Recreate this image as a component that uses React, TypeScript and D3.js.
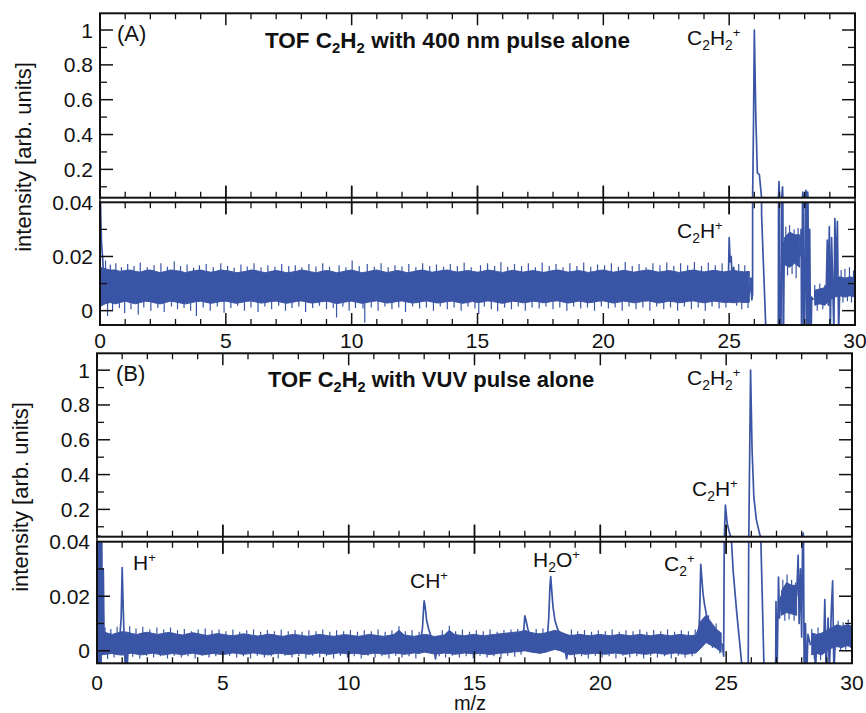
import React from "react";
import * as d3 from "d3";

const BLUE = "#3a55a5";
const FONT = "'Liberation Sans', Arial, Helvetica, sans-serif";

// sampling grid of the noise-band envelopes (m/z 0..30, step 0.2)
const bandGrid: number[] = d3.range(151).map((i) => Math.round(i * 2) / 10);

// ---------- Panel A: 400 nm pulse alone ----------
const aBandHi: (number | null)[] = [
  0.016, 0.0155, 0.015, 0.015, 0.0145, 0.0148, 0.015, 0.0145, 0.0142, 0.0148, 0.015, 0.0145, 0.014, 0.0145, 0.015, 0.0148, 0.0145, 0.014, 0.0145, 0.0148, 0.015, 0.0145, 0.0142, 0.0145, 0.015,
  0.0148, 0.0145, 0.014, 0.0142, 0.0145, 0.015, 0.0148, 0.0143, 0.014, 0.0145, 0.0148, 0.0145, 0.014, 0.0142, 0.0145, 0.015, 0.0147, 0.0143, 0.014, 0.0145, 0.0148, 0.0145, 0.014, 0.0143, 0.0147,
  0.015, 0.0145, 0.014, 0.0143, 0.0147, 0.015, 0.0145, 0.0141, 0.0144, 0.0148, 0.0145, 0.014, 0.0143, 0.0147, 0.015, 0.0146, 0.0142, 0.0145, 0.0148, 0.015, 0.0146, 0.0142, 0.0145, 0.0148, 0.0145,
  0.0142, 0.0145, 0.015, 0.0148, 0.0144, 0.0141, 0.0145, 0.0149, 0.0146, 0.0142, 0.0145, 0.0148, 0.0145, 0.0141, 0.0144, 0.0148, 0.015, 0.0146, 0.0142, 0.0145, 0.0148, 0.0145, 0.0141, 0.0144, 0.0148,
  0.015, 0.0146, 0.0142, 0.0145, 0.0149, 0.0146, 0.0142, 0.0145, 0.0148, 0.015, 0.0146, 0.0142, 0.0145, 0.0148, 0.0145, 0.0141, 0.0144, 0.0148, 0.015, 0.0146, 0.0143, 0.0146, 0.0149, 0.0146, 0.0143,
  0.0146, 0.0148, 0.0145, 0.0143, 0.0145, null, null, null, null, null, null, 0.027, 0.029, 0.028, 0.028, null, null, 0.0075, 0.008, 0.0085, 0.011, 0.012, 0.0125, 0.012, 0.0125, 0.012,
];
const aBandLo: (number | null)[] = [
  0.0015, 0.0025, 0.003, 0.0025, 0.003, 0.0035, 0.003, 0.0025, 0.003, 0.0035, 0.0033, 0.0028, 0.0025, 0.003, 0.0035, 0.0032, 0.0028, 0.0025, 0.0029, 0.0033, 0.0035, 0.0031, 0.0027, 0.003, 0.0034,
  0.0035, 0.0031, 0.0027, 0.003, 0.0034, 0.0036, 0.0032, 0.0028, 0.003, 0.0034, 0.0035, 0.0031, 0.0027, 0.003, 0.0034, 0.0036, 0.0032, 0.0028, 0.003, 0.0033, 0.0035, 0.0031, 0.0026, 0.0029, 0.0033,
  0.0035, 0.0031, 0.0027, 0.003, 0.0034, 0.0036, 0.0032, 0.0028, 0.003, 0.0034, 0.0036, 0.0032, 0.0028, 0.003, 0.0034, 0.0036, 0.0032, 0.0028, 0.003, 0.0034, 0.0035, 0.0031, 0.0027, 0.003, 0.0034,
  0.003, 0.0032, 0.0036, 0.0034, 0.003, 0.0027, 0.0031, 0.0035, 0.0033, 0.0029, 0.0031, 0.0035, 0.0033, 0.0029, 0.0031, 0.0035, 0.0036, 0.0032, 0.0028, 0.0031, 0.0035, 0.0033, 0.0029, 0.0031, 0.0035,
  0.0036, 0.0032, 0.0028, 0.0031, 0.0035, 0.0033, 0.0029, 0.0031, 0.0035, 0.0036, 0.0032, 0.0028, 0.0031, 0.0035, 0.0033, 0.0029, 0.0031, 0.0035, 0.0036, 0.0032, 0.0029, 0.0032, 0.0035, 0.0033, 0.003,
  0.0031, 0.0029, 0.0032, 0.003, 0.0031, null, null, null, null, null, null, 0.017, 0.016, 0.0175, 0.016, null, null, 0.002, 0.0025, 0.002, 0.004, 0.005, 0.0055, 0.005, 0.0055, 0.005,
];
// noise spikes poking out of the band: [m/z, tip intensity]
const aSpikes: [number, number][] = [
  [0.22, 0.0185], [0.3, -0.002], [0.41, 0.017], [0.5, 0.0], [0.63, 0.0175], [0.77, 0.001], [0.85, 0.016], [0.98, -0.001], [1.1, 0.0172], [1.23, 0.0005], [1.35, 0.0165], [1.52, -0.0015], [1.6, 0.0178], [1.74, 0.0012], [1.88, 0.016], [2.02, 0.0], [2.15, 0.0168], [2.3, 0.001], [2.42, 0.0175],
  [2.55, -0.0005], [2.68, 0.0162], [2.84, 0.0015], [2.95, 0.0182], [3.08, 0.0005], [3.2, 0.0165], [3.34, 0.001], [3.46, 0.017], [3.6, 0.0], [3.72, 0.0158], [3.83, -0.002], [3.95, 0.0168], [4.1, 0.0012], [4.22, 0.0172], [4.38, 0.0], [4.5, 0.016], [4.66, 0.0015], [4.8, 0.0175], [4.93, -0.0008],
  [5.07, 0.0165], [5.2, 0.001], [5.33, 0.0158], [5.47, 0.0018], [5.6, 0.017], [5.74, 0.0], [5.85, 0.0163], [6.0, 0.0012], [6.12, 0.0175], [6.28, -0.0005], [6.4, 0.016], [6.55, 0.0015], [6.67, 0.0168], [6.82, 0.0005], [6.95, 0.0162], [7.1, 0.0018], [7.22, 0.0172], [7.37, 0.0], [7.5, 0.0165],
  [7.63, 0.001], [7.76, 0.0168], [7.9, 0.0015], [8.02, 0.016], [8.17, -0.0005], [8.3, 0.0172], [8.45, 0.001], [8.58, 0.0163], [8.72, 0.0018], [8.85, 0.0175], [9.0, 0.0005], [9.12, 0.0162], [9.27, 0.001], [9.4, -0.0025], [9.5, 0.0168], [9.65, 0.0015], [9.77, 0.016], [9.9, 0.0], [10.02, 0.0185],
  [10.15, 0.001], [10.3, 0.0165], [10.45, 0.0008], [10.52, -0.0045], [10.62, 0.0172], [10.78, 0.0012], [10.9, 0.0162], [11.05, 0.0], [11.17, 0.0175], [11.32, 0.0015], [11.45, 0.016], [11.6, 0.0005], [11.72, 0.0168], [11.87, 0.0012], [12.0, 0.0163], [12.14, -0.0005], [12.27, 0.0172], [12.42, 0.0015], [12.55, 0.016],
  [12.7, 0.0008], [12.82, 0.0175], [12.97, 0.0012], [13.1, 0.0165], [13.25, 0.0], [13.37, 0.017], [13.52, 0.0015], [13.65, 0.0162], [13.8, 0.0005], [13.92, 0.0172], [14.07, 0.0012], [14.2, 0.0165], [14.35, 0.0], [14.47, 0.0178], [14.62, 0.0015], [14.75, 0.016], [14.9, 0.0008], [15.05, -0.0012], [15.12, 0.0168],
  [15.27, 0.0015], [15.4, 0.0175], [15.55, 0.0005], [15.68, 0.0165], [15.8, -0.0002], [15.93, 0.018], [16.08, 0.0012], [16.2, 0.0162], [16.35, 0.0005], [16.47, 0.0172], [16.62, 0.0015], [16.75, 0.0165], [16.9, 0.0], [17.02, 0.0175], [17.17, 0.0012], [17.3, 0.016], [17.45, 0.0008], [17.57, 0.0178],
  [17.72, 0.0015], [17.85, 0.0165], [18.0, 0.0005], [18.12, 0.0172], [18.27, 0.0012], [18.4, 0.016], [18.55, 0.0], [18.67, 0.0175], [18.82, 0.0015], [18.95, 0.0165], [19.1, 0.0008], [19.22, 0.0178], [19.37, 0.0012], [19.5, 0.0162], [19.65, 0.0], [19.77, 0.017], [19.92, 0.0015],
  [20.05, 0.0168], [20.2, 0.0008], [20.32, 0.0175], [20.47, 0.0012], [20.6, 0.0162], [20.75, 0.0], [20.87, 0.018], [21.02, 0.0015], [21.15, 0.0165], [21.3, 0.0005], [21.42, 0.0172], [21.57, 0.0012], [21.7, 0.016], [21.85, 0.0], [21.97, 0.0175], [22.12, 0.0015], [22.25, 0.0168], [22.4, 0.0005],
  [22.52, 0.0178], [22.67, 0.0012], [22.8, 0.0165], [22.95, 0.0], [23.07, 0.0175], [23.22, 0.0015], [23.35, 0.0168], [23.5, 0.0005], [23.62, 0.018], [23.77, 0.0012], [23.9, 0.0165], [24.05, 0.0], [24.17, 0.0178], [24.32, 0.0015], [24.45, 0.0168], [24.6, 0.0008], [24.72, 0.0175], [24.87, 0.0012], [25.3, 0.0018], [25.38, 0.0172], [25.5, 0.0005], [25.62, 0.0168], [25.75, 0.001],
  [27.25, 0.031], [27.32, 0.013], [27.4, 0.0315], [27.5, 0.0135], [27.58, 0.03], [27.66, 0.012], [27.74, 0.0305],
  [28.4, 0.0095], [28.5, 0.0], [28.6, 0.01], [28.72, 0.0005], [28.8, 0.0095], [29.45, 0.015], [29.52, 0.003], [29.6, 0.0155], [29.7, 0.0035], [29.78, 0.016], [29.86, 0.003], [29.94, 0.0148],
];
const aTraceX: (number | null)[] = [
  0, 0.005, 0.03, 0.06, 0.1, 0.15, null,
  24.96, 25.0, 25.04, 25.08, 25.12, 25.18, 25.25, null,
  25.8, 25.86, 25.9, 25.93, 25.97, 26.0, 26.06, 26.12, 26.2, 26.29, 26.45, 26.6, 26.95, 26.98, 27.01, 27.05, 27.08, 27.12, 27.15, 27.19, 27.22, null,
  27.82, 27.86, 27.88, 27.93, 27.97, 28.02, 28.05, 28.08, 28.12, 28.16, 28.2, 28.24, 28.28, 28.35, null,
  28.85, 28.9, 28.94, 28.98, 29.02, 29.07, 29.12, 29.16, 29.2, 29.25, 29.3, 29.35, 29.4,
];
const aTraceY: (number | null)[] = [
  -0.01, 0.05, 0.035, 0.025, 0.02, 0.012, null,
  0.006, 0.027, 0.018, 0.02, 0.012, 0.016, 0.008, null,
  0.006, 0.012, 0.004, 0.006, 0.5, 1.0, 0.5, 0.18, 0.17, 0.035, -0.005, -0.02, -0.02, 0.13, -0.02, -0.02, 0.02, 0.1, -0.02, 0.025, 0.02, null,
  0.02, 0.03, -0.02, 0.07, -0.02, 0.02, 0.08, -0.02, 0.07, -0.02, 0.03, -0.02, 0.005, 0.004, null,
  0.005, 0.026, 0.002, 0.031, -0.008, 0.027, 0.008, -0.008, 0.034, 0.012, 0.033, -0.008, 0.01,
];

// ---------- Panel B: VUV pulse alone ----------
const bBandHi: (number | null)[] = [
  0.0075, 0.007, 0.0065, 0.006, 0.0065, 0.007, 0.0068, 0.0063, 0.006, 0.0065, 0.0068, 0.0064, 0.006, 0.0063, 0.0067, 0.0065, 0.006, 0.0058, 0.0062, 0.0066, 0.0063, 0.0059, 0.0056, 0.006, 0.0063,
  0.006, 0.0057, 0.0055, 0.0058, 0.0062, 0.006, 0.0056, 0.0054, 0.0057, 0.0061, 0.0059, 0.0055, 0.0053, 0.0057, 0.006, 0.0058, 0.0055, 0.0053, 0.0056, 0.006, 0.0058, 0.0055, 0.0053, 0.0056, 0.0059,
  0.0058, 0.0055, 0.0053, 0.0056, 0.006, 0.0058, 0.0055, 0.0053, 0.0056, 0.006, 0.0075, 0.0058, 0.0055, 0.0053, 0.0056, 0.006, 0.0058, 0.0052, 0.0055, 0.0058, 0.0075, 0.006, 0.0057, 0.0055, 0.0058,
  0.006, 0.0057, 0.0055, 0.0058, 0.006, 0.0062, 0.0064, 0.0066, 0.0068, 0.007, 0.0075, 0.0068, 0.0064, 0.0062, 0.0065, 0.007, 0.0075, 0.007, 0.0062, 0.0056, 0.0058, 0.006, 0.0057, 0.0055, 0.0058,
  0.006, 0.0057, 0.0055, 0.0058, 0.006, 0.0057, 0.0055, 0.0058, 0.006, 0.0057, 0.0055, 0.0058, 0.006, 0.0057, 0.0055, 0.0058, 0.006, 0.0057, 0.0055, 0.0058, 0.011, 0.013, 0.0105, 0.008, 0.0065,
  null, null, null, null, null, null, null, null, null, null, null, 0.022, 0.025, 0.024, 0.024, null, null, 0.0065, 0.006, 0.0065, 0.0075, 0.0085, 0.0095, 0.009, 0.0095, 0.009,
];
const bBandLo: (number | null)[] = [
  -0.002, -0.0015, -0.0012, -0.001, -0.0014, -0.0016, -0.0011, -0.0009, -0.0013, -0.0015, -0.0012, -0.0009, -0.0012, -0.0016, -0.0013, -0.001, -0.0012, -0.0015, -0.0011, -0.0009, -0.0012, -0.0015, -0.0013, -0.001, -0.0012,
  -0.0014, -0.0011, -0.0008, -0.001, -0.0013, -0.0011, -0.0008, -0.001, -0.0013, -0.0015, -0.0012, -0.0009, -0.0011, -0.0014, -0.0012, -0.0009, -0.001, -0.0013, -0.0011, -0.0008, -0.001, -0.0013, -0.0011, -0.0008, -0.001,
  -0.0012, -0.0009, -0.0011, -0.0014, -0.0012, -0.0009, -0.001, -0.0013, -0.0011, -0.0008, -0.001, -0.0013, -0.0011, -0.0008, -0.001, -0.0005, -0.0008, -0.0012, -0.0011, -0.0008, -0.001, -0.0013, -0.0011, -0.0008, -0.001,
  -0.0012, -0.0009, -0.0011, -0.0014, -0.0012, -0.0009, -0.0008, -0.0006, -0.0004, -0.0003, 0.0, -0.0004, -0.0007, -0.0009, -0.0006, 0.0, 0.0005, 0.0, -0.0008, -0.0015, -0.0012, -0.001, -0.0013, -0.0011, -0.0009,
  -0.0011, -0.0013, -0.001, -0.0008, -0.0011, -0.0013, -0.001, -0.0008, -0.0011, -0.0013, -0.001, -0.0008, -0.0011, -0.0013, -0.001, -0.0008, -0.0011, -0.0013, -0.001, -0.0008, 0.001, 0.003, 0.002, 0.001, -0.0005,
  null, null, null, null, null, null, null, null, null, null, null, 0.013, 0.014, 0.0135, 0.013, null, null, -0.0015, -0.001, -0.0015, 0.0, 0.001, 0.0015, 0.0012, 0.0018, 0.0015,
];
const bSpikes: [number, number][] = [
  [0.32, 0.0085], [0.42, -0.003], [0.55, 0.008], [0.68, -0.0025], [0.8, 0.0088], [1.3, 0.009], [1.42, -0.0022], [1.55, 0.0082], [1.7, -0.0028], [1.82, 0.0088], [1.97, -0.0018], [2.1, 0.0078], [2.25, -0.0025], [2.38, 0.0085],
  [2.52, -0.002], [2.65, 0.0078], [2.8, -0.0028], [2.92, 0.0085], [3.07, -0.0018], [3.2, 0.0075], [3.35, -0.0025], [3.47, 0.008], [3.62, -0.002], [3.75, 0.0072], [3.9, -0.0028], [4.02, 0.0078], [4.17, -0.0018], [4.3, 0.0082], [4.45, -0.0025], [4.57, 0.0075], [4.72, -0.002], [4.85, 0.0078],
  [5.0, -0.0028], [5.12, 0.0072], [5.27, -0.0018], [5.4, 0.0078], [5.55, -0.0025], [5.67, 0.007], [5.82, -0.002], [5.95, 0.0075], [6.1, -0.0028], [6.22, 0.0078], [6.37, -0.0018], [6.5, 0.007], [6.65, -0.0025], [6.77, 0.0076], [6.92, -0.002], [7.05, 0.0072], [7.2, -0.0028], [7.32, 0.0078], [7.47, -0.0018],
  [7.6, 0.0072], [7.75, -0.0025], [7.87, 0.0076], [8.02, -0.002], [8.15, 0.007], [8.3, -0.0028], [8.42, 0.0075], [8.57, -0.0018], [8.7, 0.0072], [8.85, -0.0025], [8.97, 0.0078], [9.12, -0.002], [9.25, 0.007], [9.4, -0.0028], [9.52, 0.0075], [9.67, -0.0018], [9.8, 0.0072], [9.95, -0.0025],
  [10.07, 0.0076], [10.22, -0.002], [10.35, 0.007], [10.5, -0.0028], [10.62, 0.0075], [10.77, -0.0018], [10.9, 0.0072], [11.05, -0.0025], [11.17, 0.0078], [11.32, -0.002], [11.45, 0.007], [11.6, -0.0028], [11.72, 0.0075], [11.87, -0.0018], [12.0, 0.009], [12.12, -0.0025], [12.25, 0.0072], [12.4, -0.002],
  [12.52, 0.0076], [12.67, -0.0028], [12.8, 0.007], [13.6, -0.002], [13.72, 0.0075], [13.85, -0.0025], [14.0, 0.0092], [14.12, -0.0018], [14.25, 0.0072], [14.4, -0.0025], [14.52, 0.0078], [14.67, -0.002], [14.8, 0.007], [14.95, -0.0028],
  [15.07, 0.0075], [15.22, -0.0018], [15.35, 0.0072], [15.5, -0.0025], [15.62, 0.0078], [15.77, -0.002], [15.9, 0.007], [16.05, -0.0028], [16.17, 0.0076], [16.32, -0.0018], [16.45, 0.0078], [16.6, -0.0022], [16.72, 0.008], [16.85, -0.0015], [17.45, 0.008], [17.6, -0.0012], [17.72, 0.0082],
  [18.85, 0.0078], [18.97, -0.0025], [19.1, 0.0072], [19.25, -0.002], [19.37, 0.0076], [19.52, -0.0028], [19.65, 0.007], [19.8, -0.0018], [19.92, 0.0075],
  [20.07, -0.0025], [20.2, 0.0072], [20.35, -0.002], [20.47, 0.0078], [20.62, -0.0028], [20.75, 0.007], [20.9, -0.0018], [21.02, 0.0075], [21.17, -0.0025], [21.3, 0.0072], [21.45, -0.002], [21.57, 0.0078], [21.72, -0.0028], [21.85, 0.007],
  [22.0, -0.0018], [22.12, 0.0076], [22.27, -0.0025], [22.4, 0.0072], [22.55, -0.002], [22.67, 0.0078], [22.82, -0.0028], [22.95, 0.007], [23.1, -0.0018], [23.22, 0.0075], [23.37, -0.0025], [23.5, 0.0072], [23.65, -0.002], [23.77, 0.0078],
  [24.3, 0.013], [24.45, 0.001], [24.6, 0.01], [24.75, -0.001],
  [27.25, 0.026], [27.33, 0.011], [27.42, 0.028], [27.5, 0.0115], [27.6, 0.026], [27.7, 0.011], [27.76, 0.025],
  [28.4, 0.008], [28.5, -0.003], [28.65, 0.0085], [28.75, -0.0035], [29.45, 0.011], [29.55, 0.0], [29.65, 0.0105], [29.75, 0.0005], [29.85, 0.0115], [29.95, 0.001],
];
const bTraceX: (number | null)[] = [
  0, 0.02, 0.04, 0.07, 0.1, 0.13, 0.16, 0.19, 0.22, 0.25, 0.28, null,
  0.9, 0.96, 1.0, 1.04, 1.08, 1.12, 1.16, 1.2, 1.25, null,
  12.85, 12.93, 12.98, 13.0, 13.04, 13.1, 13.18, 13.28, 13.38, 13.45, 13.52, null,
  16.9, 16.97, 17.0, 17.05, 17.12, 17.22, 17.3, null,
  17.88, 17.95, 18.0, 18.03, 18.07, 18.12, 18.2, 18.3, 18.42, 18.55, 18.66, 18.75, null,
  23.9, 23.95, 23.99, 24.03, 24.08, 24.14, 24.22, 24.3, 24.4, 24.55, 24.7, 24.85, 24.9, 24.93, 24.97, 25.04, 25.12, 25.17, 25.28, 25.42, 25.62, 25.7, 25.87, 25.9, 25.97, 26.03, 26.1, 26.2, 26.34, 26.38, 26.5, 26.6, 26.96, 26.98, 27.02, 27.08, 27.12, 27.18, 27.22, null,
  27.8, 27.86, 27.9, 27.95, 28.0, 28.06, 28.1, 28.15, 28.2, 28.25, 28.35, null,
  28.5, 28.55, 28.6, 28.88, 28.92, 28.97, 29.05, 29.1, 29.18, 29.23, 29.28, 29.35,
];
const bTraceY: (number | null)[] = [
  -0.01, 0.05, -0.01, 0.048, -0.01, 0.045, -0.008, 0.04, 0.0, 0.03, 0.006, null,
  0.004, 0.012, 0.0305, 0.016, 0.004, -0.006, 0.004, -0.006, 0.003, null,
  0.003, 0.008, 0.016, 0.0183, 0.016, 0.011, 0.008, 0.005, 0.002, -0.003, 0.002, null,
  0.003, 0.009, 0.0128, 0.011, 0.008, 0.005, 0.003, null,
  0.003, 0.012, 0.024, 0.0272, 0.022, 0.016, 0.011, 0.008, 0.006, 0.003, -0.003, 0.002, null,
  0.002, 0.015, 0.0317, 0.027, 0.021, 0.017, 0.013, 0.011, 0.009, 0.006, 0.004, 0.002, -0.002, 0.05, 0.225, 0.12, 0.072, 0.047, 0.029, 0.014, -0.005, -0.02, -0.02, 0.05, 1.0, 0.54, 0.27, 0.14, 0.053, 0.04, -0.005, -0.02, -0.02, 0.018, -0.01, 0.027, 0.012, 0.02, 0.018, null,
  0.02, 0.035, 0.01, 0.03, 0.005, 0.064, -0.01, 0.01, -0.01, 0.006, 0.002, null,
  0.004, -0.008, 0.005, 0.003, 0.0188, -0.008, 0.012, -0.008, 0.015, 0.0256, -0.008, 0.006,
];

// ---------- axis tick labels ----------
const xTickLabels = ["0", "5", "10", "15", "20", "25", "30"];
const xTickValues = [0, 5, 10, 15, 20, 25, 30];
const topYTickValues = [0.2, 0.4, 0.6, 0.8, 1];
const topYTickLabels = ["0.2", "0.4", "0.6", "0.8", "1"];
const lowYTickValues = [0, 0.02, 0.04];
const lowYTickLabels = ["0", "0.02", "0.04"];

type Part = [string, "n" | "sub" | "sup"];

function Formula({ x, y, parts, size = 21, weight = "normal" }: { x: number; y: number; parts: Part[]; size?: number; weight?: string }) {
  let offset = 0;
  return (
    <text x={x} y={y} fontSize={size} fontWeight={weight} fill="#111" style={{ whiteSpace: "pre" }}>
      {parts.map(([t, k], i) => {
        const target = k === "sub" ? 5 : k === "sup" ? -8 : 0;
        const dy = target - offset;
        offset = target;
        const fs = k === "n" ? size : k === "sub" ? size * 0.66 : size * 0.62;
        return (
          <tspan key={i} dy={dy} fontSize={fs}>
            {t}
          </tspan>
        );
      })}
    </text>
  );
}

type PanelProps = {
  id: string;
  left: number;
  right: number;
  topY0: number;
  topY1: number;
  lowY0: number;
  lowY1: number;
  topDomain: [number, number];
  lowDomain: [number, number];
  bandHi: (number | null)[];
  bandLo: (number | null)[];
  spikes: [number, number][];
  traceX: (number | null)[];
  traceY: (number | null)[];
  xLabelY: number;
};

function Panel(p: PanelProps) {
  const x = d3.scaleLinear().domain([0, 30]).range([p.left, p.right]);
  const yTop = d3.scaleLinear().domain(p.topDomain).range([p.topY1, p.topY0]);
  const yLow = d3.scaleLinear().domain(p.lowDomain).range([p.lowY1, p.lowY0]);
  const band = bandGrid.map((m, i) => ({ m, lo: p.bandLo[i], hi: p.bandHi[i] }));
  const trace = p.traceX.map((m, i) => ({ m: m as number, v: p.traceY[i] }));
  const spikeSegs = p.spikes.map(([m, tip]) => {
    const i = Math.round(m / 0.2);
    const lo = p.bandLo[i];
    const hi = p.bandHi[i];
    const base = lo != null && hi != null ? (lo + hi) / 2 : tip;
    return { m, tip, base };
  });
  const minorX = d3.range(0, 31);

  const sub = (ys: d3.ScaleLinear<number, number>, y0: number, y1: number, key: string, yMajor: number[], yMinor: number[], yLabels: string[]) => {
    const area = d3
      .area<any>()
      .defined((d) => d.lo != null && d.hi != null)
      .x((d) => x(d.m))
      .y0((d) => ys(d.lo))
      .y1((d) => ys(d.hi));
    const line = d3
      .line<any>()
      .defined((d) => d.v != null)
      .x((d) => x(d.m))
      .y((d) => ys(d.v));
    const clipId = `clip-${p.id}-${key}`;
    const spikePath = spikeSegs.map((s) => `M${x(s.m)},${ys(s.base)}L${x(s.m)},${ys(s.tip)}`).join("");
    return (
      <g key={key}>
        <clipPath id={clipId}>
          <rect x={p.left} y={y0} width={p.right - p.left} height={y1 - y0} />
        </clipPath>
        <g clipPath={`url(#${clipId})`}>
          <path d={area(band) || ""} fill={BLUE} stroke={BLUE} strokeWidth={1} strokeLinejoin="round" />
          <path d={spikePath} fill="none" stroke={BLUE} strokeWidth={1.2} />
          <path d={line(trace) || ""} fill="none" stroke={BLUE} strokeWidth={1.7} strokeLinejoin="round" />
        </g>
        {yMinor.map((v) => (
          <g key={"mn" + v}>
            <line x1={p.left} x2={p.left + 7} y1={ys(v)} y2={ys(v)} stroke="#111" strokeWidth={1.3} />
            <line x1={p.right} x2={p.right - 7} y1={ys(v)} y2={ys(v)} stroke="#111" strokeWidth={1.3} />
          </g>
        ))}
        {yMajor.map((v, i) => (
          <g key={"mj" + v}>
            <line x1={p.left} x2={p.left + 13} y1={ys(v)} y2={ys(v)} stroke="#111" strokeWidth={1.5} />
            <line x1={p.right} x2={p.right - 13} y1={ys(v)} y2={ys(v)} stroke="#111" strokeWidth={1.5} />
            <text x={p.left - 7} y={ys(v) + 7.5} fontSize={21} textAnchor="end" fill="#111">
              {yLabels[i]}
            </text>
          </g>
        ))}
        {minorX.map((m) => {
          const major = m % 5 === 0;
          const L = major ? 12 : 6;
          return (
            <g key={"xt" + m}>
              <line x1={x(m)} x2={x(m)} y1={y0} y2={y0 + L} stroke="#111" strokeWidth={major ? 1.5 : 1.3} />
              <line x1={x(m)} x2={x(m)} y1={y1} y2={y1 - L} stroke="#111" strokeWidth={major ? 1.5 : 1.3} />
            </g>
          );
        })}
        <rect x={p.left} y={y0} width={p.right - p.left} height={y1 - y0} fill="none" stroke="#111" strokeWidth={2} />
      </g>
    );
  };

  return (
    <g>
      {sub(yTop, p.topY0, p.topY1, "top", topYTickValues, [0.1, 0.3, 0.5, 0.7, 0.9], topYTickLabels)}
      {sub(yLow, p.lowY0, p.lowY1, "low", lowYTickValues.filter((v) => v < 0.04), [0.01, 0.03], lowYTickLabels)}
      <text x={p.left - 7} y={yLow(0.04) + 7.5} fontSize={21} textAnchor="end" fill="#111">
        {lowYTickLabels[2]}
      </text>
      {xTickValues.map((m) => (
        <line key={"br" + m} x1={x(m)} x2={x(m)} y1={p.topY1 - 12} y2={p.lowY0 + 12} stroke="#111" strokeWidth={1.5} />
      ))}
      {xTickValues.map((m, i) => (
        <text key={"xl" + m} x={x(m)} y={p.xLabelY} fontSize={21} textAnchor="middle" fill="#111">
          {xTickLabels[i]}
        </text>
      ))}
    </g>
  );
}

export default function App() {
  return (
    <svg width={866} height={713} style={{ position: "absolute", left: 0, top: 0, background: "#fff" }} fontFamily={FONT}>
      <rect x={0} y={0} width={866} height={713} fill="#fff" />
      <Panel
        id="A"
        left={100}
        right={855}
        topY0={13.3}
        topY1={197.7}
        lowY0={202.3}
        lowY1={325}
        topDomain={[0.0374, 1.096]}
        lowDomain={[-0.0053, 0.04]}
        bandHi={aBandHi}
        bandLo={aBandLo}
        spikes={aSpikes}
        traceX={aTraceX}
        traceY={aTraceY}
        xLabelY={348}
      />
      <Panel
        id="B"
        left={97}
        right={852}
        topY0={353.3}
        topY1={536.7}
        lowY0={541.7}
        lowY1={663.3}
        topDomain={[0.043, 1.097]}
        lowDomain={[-0.0046, 0.04]}
        bandHi={bBandHi}
        bandLo={bBandLo}
        spikes={bSpikes}
        traceX={bTraceX}
        traceY={bTraceY}
        xLabelY={690}
      />
      <text x={117} y={41} fontSize={22} fill="#111">(A)</text>
      <Formula x={265} y={48} size={22.5} weight="bold" parts={[["TOF C", "n"], ["2", "sub"], ["H", "n"], ["2", "sub"], [" with 400 nm pulse alone", "n"]]} />
      <Formula x={687} y={45} parts={[["C", "n"], ["2", "sub"], ["H", "n"], ["2", "sub"], ["+", "sup"]]} />
      <Formula x={677} y={238} parts={[["C", "n"], ["2", "sub"], ["H", "n"], ["+", "sup"]]} />
      <text x={116} y={381} fontSize={22} fill="#111">(B)</text>
      <Formula x={268} y={387} size={22} weight="bold" parts={[["TOF C", "n"], ["2", "sub"], ["H", "n"], ["2", "sub"], [" with VUV pulse alone", "n"]]} />
      <Formula x={687} y={385} parts={[["C", "n"], ["2", "sub"], ["H", "n"], ["2", "sub"], ["+", "sup"]]} />
      <Formula x={692} y={496} parts={[["C", "n"], ["2", "sub"], ["H", "n"], ["+", "sup"]]} />
      <Formula x={664} y={571} parts={[["C", "n"], ["2", "sub"], ["+", "sup"]]} />
      <Formula x={133} y={570} parts={[["H", "n"], ["+", "sup"]]} />
      <Formula x={410} y={588} parts={[["CH", "n"], ["+", "sup"]]} />
      <Formula x={533} y={567} parts={[["H", "n"], ["2", "sub"], ["O", "n"], ["+", "sup"]]} />
      <text transform="translate(31,157) rotate(-90)" fontSize={22} textAnchor="middle" fill="#111">
        intensity [arb. units]
      </text>
      <text transform="translate(28,497) rotate(-90)" fontSize={22} textAnchor="middle" fill="#111">
        intensity [arb. units]
      </text>
      <text x={470} y={710} fontSize={20} textAnchor="middle" fill="#111">
        m/z
      </text>
    </svg>
  );
}
